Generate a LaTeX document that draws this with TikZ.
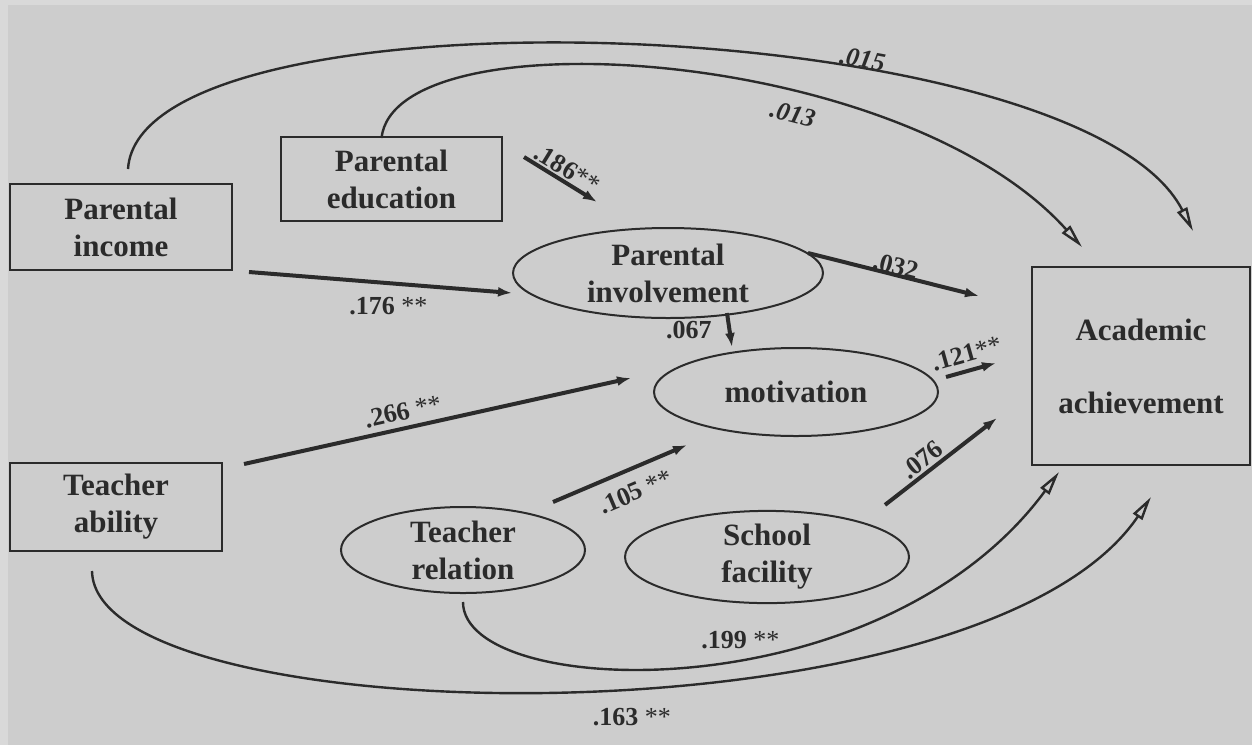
\documentclass[tikz,border=0pt]{standalone}
\usepackage{fontspec}
\setmainfont{Liberation Serif}
\usetikzlibrary{arrows.meta,shapes.geometric,calc}
\definecolor{ink}{HTML}{2B2B2B}
\definecolor{paper}{HTML}{CDCDCD}
\definecolor{margin}{HTML}{D9D9D9}
\newcommand{\stars}{{\mdseries**}}

\begin{document}
\begin{tikzpicture}[x=0.5pt,y=-0.5pt,
  box/.style={draw=ink, line width=1pt, inner sep=0pt, align=center, text=ink, font=\fontsize{15.5}{18.5}\selectfont\bfseries},
  oval/.style={box, ellipse},
  arr/.style={-{Latex[length=7pt,width=5pt]}, line width=2pt, ink},
  curv/.style={-{Triangle[open,length=12pt,width=5.5pt]}, line width=1.2pt, ink},
  lab/.style={font=\fontsize{13}{15}\selectfont\bfseries, text=ink, inner sep=1pt}
]
\useasboundingbox (0,0) rectangle (1252,745);
\fill[margin] (0,0) rectangle (1252,745);
\fill[paper] (8,5) rectangle (1252,745);

\node[box, minimum width=111pt, minimum height=43pt] (inc) at (121,227) {Parental\\income};
\node[box, minimum width=110.5pt, minimum height=42pt] (edu) at (391.5,179) {Parental\\education};
\node[oval, minimum width=155pt, minimum height=45pt] (inv) at (668,273) {Parental\\involvement};
\node[oval, minimum width=142pt, minimum height=44pt] (mot) at (796,392) {motivation};
\node[box, minimum width=109pt, minimum height=99pt] (ach) at (1141,366) {Academic\\[18pt]achievement};
\node[box, minimum width=106pt, minimum height=44pt] (abl) at (116,507) {Teacher\\ability};
\node[oval, minimum width=122pt, minimum height=43pt] (rel) at (463,550) {Teacher\\relation};
\node[oval, minimum width=142pt, minimum height=44pt] (fac) at (767,557) {School\\facility};

% direct paths
\draw[arr] ($(inc.south east)+(16,1)$) -- ($(inv.west)+(0,20)$) node[lab, pos=0.53, below=5pt] {.176 \stars};
\draw[arr] ($(edu.north east)+(21,21)$) -- ($(inv.north)+(-71,-25)$) node[lab, midway, sloped, above] {.186\stars};
\draw[arr] ($(inv.east)+(-16,-20)$) -- ($(ach.north west)+(-52,30)$) node[lab, midway, sloped, above=-2pt] {.032};
\draw[arr] ($(inv.south)+(59,-6)$) -- ($(mot.north)+(-64,0)$) node[lab, midway, left=7pt] {.067};
\draw[arr] ($(mot.east)+(7,-15)$) -- ($(ach.west)+(-35,-3)$) node[lab, midway, sloped, above=2pt] {.121\stars};
\draw[arr] ($(abl.north east)+(21,2)$) -- ($(mot.west)+(-22,-14)$) node[lab, pos=0.42, sloped, above=2pt] {.266 \stars};
\draw[arr] ($(rel.north)+(90,-4)$) -- ($(mot.south)+(-109,8)$) node[lab, pos=0.55, sloped, below=5pt] {.105 \stars};
\draw[arr] ($(fac.north)+(118,-5)$) -- ($(ach.south west)+(-34,-48)$) node[lab, pos=0.4, sloped, above] {.076};

% curved paths
\draw[curv] ($(inc.north)+(7,-14)$) .. controls (140,-20) and (1080,10) .. ($(ach.north)+(52,-35)$)
  node[lab, pos=0.66, sloped, above=1pt] {\itshape .015};
\draw[curv] ($(edu.north)+(-10,2)$) .. controls (395,15) and (900,45) .. ($(ach.north west)+(51,-19)$)
  node[lab, pos=0.64, sloped, below=4pt] {\itshape .013};
\draw[curv] ($(rel.south)+(0,8)$) .. controls (463,700) and (880,715) .. ($(ach.south west)+(28,6)$)
  node[lab, pos=0.56, above=3pt] {.199 \stars};
\draw[curv] ($(abl.south)+(-24,19)$) .. controls (95,735) and (980,750) .. ($(ach.south)+(10,31)$)
  node[lab, pos=0.55, below=9pt] {.163 \stars};
\end{tikzpicture}
\end{document}
